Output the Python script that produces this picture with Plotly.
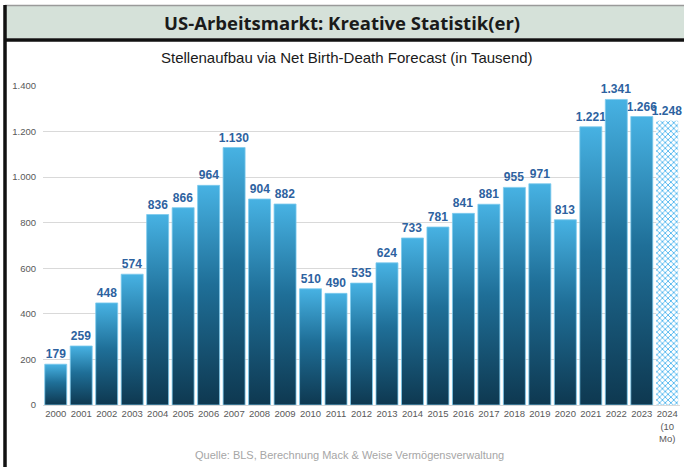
import plotly.graph_objects as go

years = ["2000", "2001", "2002", "2003", "2004", "2005", "2006", "2007", "2008", "2009",
         "2010", "2011", "2012", "2013", "2014", "2015", "2016", "2017", "2018", "2019",
         "2020", "2021", "2022", "2023", "2024<br>(10<br>Mo)"]
values = [179, 259, 448, 574, 836, 866, 964, 1130, 904, 882,
          510, 490, 535, 624, 733, 781, 841, 881, 955, 971,
          813, 1221, 1341, 1266, 1248]
y_ticks = [0, 200, 400, 600, 800, 1000, 1200, 1400]

title_text = "US-Arbeitsmarkt: Kreative Statistik(er)"
subtitle_text = "Stellenaufbau via Net Birth-Death Forecast (in Tausend)"
source_text = "Quelle: BLS, Berechnung Mack & Weise Vermögensverwaltung"

W, H = 684, 467
ML, MR, MT, MB = 43, 4, 86, 62
plot_w = W - ML - MR
plot_h = H - MT - MB


def px_x(p):
    return (p - ML) / plot_w


def px_y(p):
    return (H - MB - p) / plot_h


bar_w = 0.863
dark = "#0e3850"
light = "#47b2e3"
label_color = "#2d62a0"
hatch_color = "#4fb6ee"

idx = list(range(len(years)))
n = len(values)

fig = go.Figure()

# base bar trace: carries the value labels
fig.add_trace(go.Bar(
    x=idx, y=values, width=bar_w,
    marker=dict(color="rgba(0,0,0,0)", line=dict(width=0)),
    texttemplate="%{y:,}", textposition="outside", constraintext="none",
    textfont=dict(family="Liberation Sans Narrow, Arial Narrow, Liberation Sans", size=12,
                  color=label_color, weight="bold"),
    cliponaxis=False, hoverinfo="skip", showlegend=False,
))

# gradient filled bars drawn through the axes; last (partial) year hatched
for i, v in enumerate(values):
    x0, x1 = i - bar_w / 2, i + bar_w / 2
    if i < n - 1:
        fig.add_trace(go.Scatter(
            x=[x0, x1, x1, x0, x0], y=[0, 0, v, v, 0],
            mode="lines", fill="toself",
            fillgradient=dict(type="vertical", colorscale=[[0, dark], [0.55, "#1f6f98"], [1, light]]),
            line=dict(color="#7ccaee", width=0.8),
            hoverinfo="skip", showlegend=False,
        ))
    else:
        fig.add_trace(go.Scatter(
            x=[x0, x1, x1, x0, x0], y=[0, 0, v, v, 0],
            mode="lines", fill="toself", fillcolor="white",
            fillpattern=dict(shape="x", fgcolor=hatch_color, bgcolor="white",
                             size=4, solidity=0.4, fillmode="replace"),
            line=dict(color="rgba(0,0,0,0)", width=0),
            hoverinfo="skip", showlegend=False,
        ))

fig.update_layout(
    width=W, height=H,
    margin=dict(l=ML, r=MR, t=MT, b=MB),
    paper_bgcolor="white", plot_bgcolor="white",
    separators=",.",
    bargap=0,
    xaxis=dict(
        range=[-0.5, n - 0.5], tickmode="array", tickvals=idx, ticktext=years,
        showgrid=False, zeroline=False, showline=True, linecolor="#d9d9d9", linewidth=1,
        ticks="", tickfont=dict(family="Liberation Sans Narrow, Liberation Sans", size=9.5, color="#595959"),
    ),
    yaxis=dict(
        range=[0, 1400], tickmode="array", tickvals=y_ticks,
        ticktext=[f"{t:,}".replace(",", ".") for t in y_ticks],
        showgrid=True, gridcolor="#d9d9d9", gridwidth=1, zeroline=False,
        ticks="", ticklabelstandoff=6,
        tickfont=dict(family="Liberation Sans Narrow, Liberation Sans", size=9.5, color="#595959"),
    ),
    shapes=[
        dict(type="rect", xref="paper", yref="paper",
             x0=px_x(5), x1=px_x(700), y0=px_y(38), y1=px_y(6),
             fillcolor="#d5e1d9", line=dict(width=0), layer="below"),
        dict(type="line", xref="paper", yref="paper",
             x0=px_x(5), x1=px_x(700), y0=px_y(5.5), y1=px_y(5.5),
             line=dict(color="#9a9a9a", width=1.5)),
        dict(type="line", xref="paper", yref="paper",
             x0=px_x(4), x1=px_x(700), y0=px_y(40), y1=px_y(40),
             line=dict(color="#111111", width=3.5)),
        dict(type="line", xref="paper", yref="paper",
             x0=px_x(5), x1=px_x(5), y0=px_y(5), y1=px_y(480),
             line=dict(color="#111111", width=3.5)),
    ],
    annotations=[
        dict(text=title_text, xref="paper", yref="paper", x=px_x(342), y=px_y(23),
             xanchor="center", yanchor="middle", showarrow=False,
             font=dict(family="Open Sans, Lato", size=18.5, color="#1a1a1a", weight="bold")),
        dict(text=subtitle_text, xref="paper", yref="paper", x=px_x(347), y=px_y(57),
             xanchor="center", yanchor="middle", showarrow=False,
             font=dict(family="Liberation Sans, Arial", size=15, color="#1a1a1a")),
        dict(text=source_text, xref="paper", yref="paper", x=px_x(349), y=px_y(455),
             xanchor="center", yanchor="middle", showarrow=False,
             font=dict(family="Liberation Sans Narrow, Liberation Sans", size=11, color="#a6a6a6")),
    ],
)

fig.write_html("out.html", config={"displayModeBar": False},
               post_script="document.body.style.margin='0px';document.body.style.overflow='hidden';")
